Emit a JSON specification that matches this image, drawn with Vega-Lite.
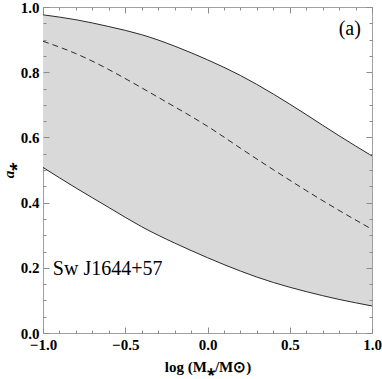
{
  "$schema": "https://vega.github.io/schema/vega-lite/v6.json",
  "width": 329,
  "height": 326,
  "autosize": "none",
  "padding": {"left": 43, "top": 7, "right": 10, "bottom": 46},
  "config": {
    "view": {"stroke": "#a0a0a0", "strokeWidth": 1},
    "axis": {
      "grid": false,
      "domain": false,
      "zindex": 1,
      "labelFlush": false,
      "tickColor": "#8c8c8c",
      "tickWidth": 1,
      "labelFont": "Liberation Serif",
      "labelFontWeight": "bold",
      "labelFontSize": 15,
      "labelColor": "black",
      "titleFont": "Liberation Serif",
      "titleFontWeight": "bold",
      "titleFontSize": 15,
      "titleColor": "black"
    }
  },
  "data": {
    "values": [
      {"x": -1.0, "lo": 0.508, "mid": 0.895, "hi": 0.976},
      {"x": -0.8, "lo": 0.445, "mid": 0.857, "hi": 0.961},
      {"x": -0.6, "lo": 0.385, "mid": 0.808, "hi": 0.940},
      {"x": -0.4, "lo": 0.326, "mid": 0.752, "hi": 0.915},
      {"x": -0.2, "lo": 0.276, "mid": 0.694, "hi": 0.880},
      {"x": 0.0, "lo": 0.231, "mid": 0.634, "hi": 0.838},
      {"x": 0.2, "lo": 0.190, "mid": 0.567, "hi": 0.790},
      {"x": 0.4, "lo": 0.155, "mid": 0.501, "hi": 0.733},
      {"x": 0.6, "lo": 0.127, "mid": 0.437, "hi": 0.670},
      {"x": 0.8, "lo": 0.103, "mid": 0.376, "hi": 0.605},
      {"x": 1.0, "lo": 0.083, "mid": 0.318, "hi": 0.543}
    ]
  },
  "layer": [
    {
      "mark": {"type": "area", "color": "#d9d9d9", "interpolate": "natural"},
      "encoding": {
        "x": {"field": "x", "type": "quantitative", "scale": {"domain": [-1, 1], "nice": false},
          "axis": {"orient": "bottom", "values": [-1, -0.5, 0, 0.5, 1], "format": ".1f", "ticks": false, "labelPadding": 4, "title": "log (M⁎/M⊙)", "titlePadding": 7, "zindex": 2}},
        "y": {"field": "hi", "type": "quantitative", "scale": {"domain": [0, 1], "nice": false},
          "axis": {"orient": "left", "values": [0, 0.2, 0.4, 0.6, 0.8, 1.0], "format": ".1f", "ticks": false, "labelPadding": 4, "title": "a⁎", "titleFontStyle": "italic", "titlePadding": 4, "zindex": 2}},
        "y2": {"field": "lo"}
      }
    },
    {
      "mark": {"type": "line", "color": "#2a2a2a", "strokeWidth": 1, "interpolate": "natural"},
      "encoding": {
        "x": {"field": "x", "type": "quantitative", "axis": {"orient": "top", "values": [-1, -0.5, 0, 0.5, 1], "labels": false, "ticks": true, "tickSize": 6, "offset": -6, "title": null, "zindex": 2}},
        "y": {"field": "hi", "type": "quantitative", "axis": {"orient": "right", "values": [0, 0.2, 0.4, 0.6, 0.8, 1.0], "labels": false, "ticks": true, "tickSize": 6, "offset": -6, "title": null, "zindex": 2}}
      }
    },
    {
      "mark": {"type": "line", "color": "#2a2a2a", "strokeWidth": 1, "interpolate": "natural"},
      "encoding": {
        "x": {"field": "x", "type": "quantitative", "axis": {"orient": "bottom", "values": [-0.9, -0.8, -0.7, -0.6, -0.4, -0.3, -0.2, -0.1, 0.1, 0.2, 0.3, 0.4, 0.6, 0.7, 0.8, 0.9], "labels": false, "ticks": true, "tickSize": 3, "offset": -3, "title": null, "zindex": 2}},
        "y": {"field": "lo", "type": "quantitative", "axis": {"orient": "left", "values": [0.05, 0.1, 0.15, 0.25, 0.3, 0.35, 0.45, 0.5, 0.55, 0.65, 0.7, 0.75, 0.85, 0.9, 0.95], "labels": false, "ticks": true, "tickSize": 3, "offset": -3, "title": null, "zindex": 2}}
      }
    },
    {
      "mark": {"type": "line", "color": "#2a2a2a", "strokeWidth": 1, "strokeDash": [6, 4], "interpolate": "natural"},
      "encoding": {
        "x": {"field": "x", "type": "quantitative", "axis": {"orient": "top", "values": [-0.9, -0.8, -0.7, -0.6, -0.4, -0.3, -0.2, -0.1, 0.1, 0.2, 0.3, 0.4, 0.6, 0.7, 0.8, 0.9], "labels": false, "ticks": true, "tickSize": 3, "offset": -3, "title": null, "zindex": 2}},
        "y": {"field": "mid", "type": "quantitative", "axis": {"orient": "right", "values": [0.05, 0.1, 0.15, 0.25, 0.3, 0.35, 0.45, 0.5, 0.55, 0.65, 0.7, 0.75, 0.85, 0.9, 0.95], "labels": false, "ticks": true, "tickSize": 3, "offset": -3, "title": null, "zindex": 2}}
      }
    },
    {
      "data": {"values": [{"label": "(a)"}]},
      "mark": {"type": "text", "font": "Liberation Serif", "fontSize": 20, "align": "center", "baseline": "middle", "color": "black"},
      "encoding": {
        "x": {"datum": 0.865, "type": "quantitative", "axis": {"orient": "bottom", "values": [-1, -0.5, 0, 0.5, 1], "labels": false, "ticks": true, "tickSize": 6, "offset": -6, "title": null, "zindex": 2}},
        "y": {"datum": 0.933, "type": "quantitative", "axis": {"orient": "left", "values": [0, 0.2, 0.4, 0.6, 0.8, 1.0], "labels": false, "ticks": true, "tickSize": 6, "offset": -6, "title": null, "zindex": 2}},
        "text": {"field": "label"}
      }
    },
    {
      "data": {"values": [{"label": "Sw J1644+57"}]},
      "mark": {"type": "text", "font": "Liberation Serif", "fontSize": 20, "align": "left", "baseline": "middle", "color": "black"},
      "encoding": {
        "x": {"datum": -0.94, "type": "quantitative", "axis": null},
        "y": {"datum": 0.196, "type": "quantitative", "axis": null},
        "text": {"field": "label"}
      }
    }
  ],
  "resolve": {"axis": {"x": "independent", "y": "independent"}}
}
